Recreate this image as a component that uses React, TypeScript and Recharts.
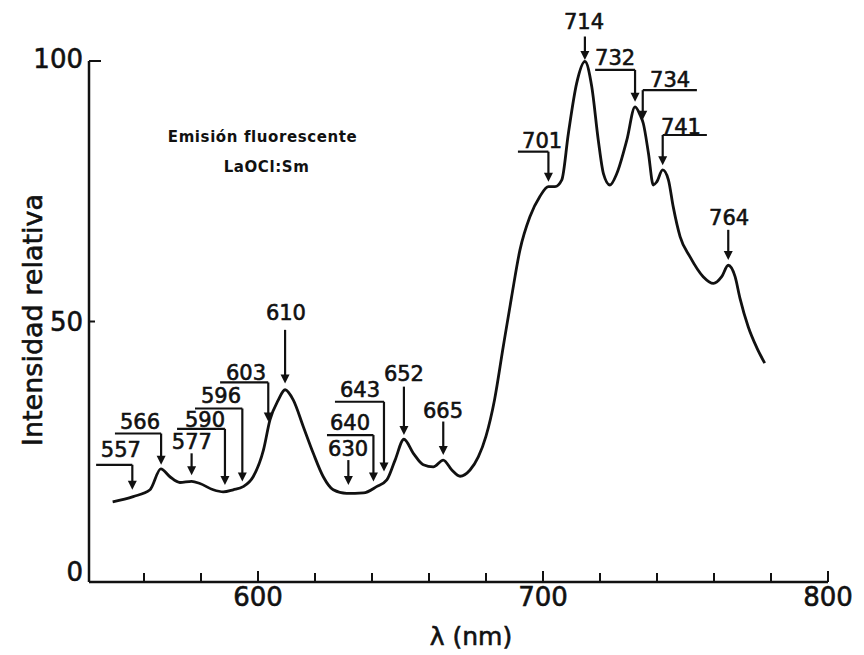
import React from 'react';
import { LineChart, Line, XAxis, YAxis, ReferenceLine, ReferenceDot, Label } from 'recharts';

// Spectrum (wavelength nm, relative intensity)
const wavelengths = [549.0, 556.2, 562.1, 565.9, 569.1, 572.6, 576.7, 579.6, 584.3, 587.8, 591.3, 594.8, 598.3, 601.9, 604.2, 607.1, 609.5, 612.4, 615.9, 619.4, 622.9, 626.4, 631.1, 637.0, 641.6, 645.2, 648.1, 651.2, 654.5, 658.0, 661.5, 665.0, 668.0, 670.9, 674.4, 677.3, 680.0, 683.0, 686.0, 689.0, 691.9, 695.4, 698.9, 701.9, 704.2, 706.6, 708.9, 711.8, 714.7, 717.1, 719.4, 721.2, 723.5, 725.9, 729.4, 732.3, 734.1, 735.2, 737.0, 738.7, 739.9, 742.0, 744.0, 745.7, 748.1, 751.6, 756.2, 759.8, 762.7, 765.0, 767.4, 769.1, 772.0, 775.0, 777.8];
const intensities = [15.4, 16.4, 17.7, 21.7, 20.2, 19.1, 19.3, 18.9, 17.7, 17.3, 17.7, 18.3, 20.2, 25.3, 31.1, 34.9, 36.9, 34.9, 29.8, 24.7, 20.2, 17.7, 17.0, 17.1, 18.3, 19.6, 23.4, 27.4, 24.7, 22.5, 22.1, 23.4, 21.5, 20.3, 21.5, 24.0, 28.0, 35.0, 45.0, 54.8, 63.7, 70.1, 74.0, 75.9, 75.9, 77.2, 86.1, 95.7, 99.9, 95.1, 84.8, 78.4, 76.2, 78.4, 84.8, 91.2, 89.6, 88.0, 82.3, 76.2, 76.8, 79.1, 77.2, 72.0, 66.3, 62.4, 58.6, 57.3, 58.6, 60.8, 58.6, 54.5, 49.0, 45.0, 42.0];

// Axis ticks
const xTicks = [560, 580, 600, 620, 640, 660, 680, 700, 720, 740, 760, 780, 800];
const xLabeled = [600, 700, 800];
const yTicks = [0, 50, 100];

// Peak annotations (data units)
const peakLabels = ['557', '566', '577', '590', '596', '603', '610', '630', '640', '643', '652', '665', '701', '714', '732', '734', '741', '764'];
const arrowWavelengths = [555.9, 566.0, 576.7, 588.4, 594.5, 603.6, 609.5, 631.7, 640.5, 644.2, 651.2, 665.0, 701.9, 714.7, 732.3, 735.0, 742.0, 765.0];
const arrowTops = [22.5, 28.5, 24.7, 29.4, 33.3, 38.3, 48.4, 23.4, 28.2, 34.6, 37.5, 30.8, 82.6, 104.7, 98.3, 94.4, 85.8, 67.6];
const arrowTips = [17.7, 22.5, 20.5, 18.6, 19.3, 30.8, 38.1, 18.6, 19.3, 21.2, 28.2, 24.4, 76.8, 100.2, 92.2, 88.7, 80.0, 61.8];
const leaderEnds: (number | null)[] = [543.2, 549.8, null, 571.6, 577.9, 586.7, null, null, 624.2, 627.0, null, null, 691.2, null, 718.3, 754.0, 757.5, null];
const labelWavelengths = [551.9, 558.6, 576.8, 581.4, 587.0, 595.8, 609.8, 631.6, 632.3, 635.8, 651.2, 664.9, 699.7, 714.4, 725.3, 744.6, 748.4, 765.3];
const labelIntensities = [25.5, 30.9, 26.9, 31.2, 35.8, 40.3, 51.8, 25.6, 30.6, 36.9, 40.1, 33.0, 84.8, 107.5, 100.6, 96.4, 87.5, 69.9];

// Inset note
const noteLines = ['Emisión fluorescente', 'LaOCl:Sm'];
const noteWavelengths = [601.6, 603.0];
const noteIntensities = [84.4, 78.7];

const INK = '#111';
const FONT = '"DejaVu Sans", sans-serif';
const TEXT_STROKE = { stroke: INK, strokeWidth: 0.6 };

const XTick = (props: any) => {
  const { x, y, payload } = props;
  const v = payload.value;
  const major = xLabeled.includes(v);
  return (
    <g>
      <line x1={x} x2={x} y1={y} y2={y - (major ? 11 : 9)} stroke={INK} strokeWidth={2} />
      {major && (
        <text x={x} y={y + 24} textAnchor="middle" fontSize={26} fontFamily={FONT} fill={INK} {...TEXT_STROKE}>
          {v}
        </text>
      )}
    </g>
  );
};

const YTick = (props: any) => {
  const { x, y, payload } = props;
  const v = payload.value;
  const len = v === 100 ? 12 : v === 50 ? 6 : 0;
  const dy = v === 0 ? -1 : v === 100 ? 7 : 9;
  return (
    <g>
      {len > 0 && <line x1={x} x2={x + len} y1={y} y2={y} stroke={INK} strokeWidth={2} />}
      <text x={x - 6} y={y + dy} textAnchor="end" fontSize={26} fontFamily={FONT} fill={INK} {...TEXT_STROKE}>
        {v}
      </text>
    </g>
  );
};

const ArrowShape = (props: any) => {
  const { x1, y1, x2, y2 } = props;
  const head = 9;
  return (
    <g>
      <line x1={x1} y1={y1} x2={x2} y2={y2 - head + 1} stroke={INK} strokeWidth={2.2} />
      <polygon points={`${x2},${y2} ${x2 - 4.5},${y2 - head} ${x2 + 4.5},${y2 - head}`} fill={INK} />
    </g>
  );
};

const LeaderShape = (props: any) => {
  const { x1, y1, x2, y2 } = props;
  return <line x1={x1} y1={y1} x2={x2} y2={y2} stroke={INK} strokeWidth={2.2} />;
};

export default function App() {
  const data = wavelengths.map((w, i) => ({ wl: w, v: intensities[i] }));
  return (
    <LineChart width={848} height={647} data={data} margin={{ top: 53, right: 28, bottom: 23, left: 21 }}>
      <XAxis
        type="number"
        dataKey="wl"
        domain={[540.7, 800]}
        ticks={xTicks}
        interval={0}
        tickSize={0}
        tickMargin={0}
        tickLine={false}
        tick={<XTick />}
        height={50}
        axisLine={{ stroke: INK, strokeWidth: 2.5 }}
      >
        <Label
          content={() => (
            <text x={463} y={637} textAnchor="middle" fontSize={25} fontFamily={FONT} fill={INK} {...TEXT_STROKE}>
              λ (nm)
            </text>
          )}
        />
      </XAxis>
      <YAxis
        type="number"
        domain={[0, 100]}
        ticks={yTicks}
        interval={0}
        tickSize={0}
        tickMargin={0}
        tickLine={false}
        tick={<YTick />}
        width={60}
        axisLine={{ stroke: INK, strokeWidth: 2.5 }}
      >
        <Label
          content={() => (
            <text
              x={34}
              y={312}
              transform="rotate(-90 34 312)"
              textAnchor="middle"
              fontSize={27}
              fontFamily={FONT}
              fill={INK}
              {...TEXT_STROKE}
            >
              Intensidad relativa
            </text>
          )}
        />
      </YAxis>
      <Line dataKey="v" type="monotone" stroke={INK} strokeWidth={2.8} dot={false} isAnimationActive={false} />
      {peakLabels.map((lab, i) => (
        <ReferenceLine
          key={`a${i}`}
          ifOverflow="visible"
          segment={[
            { x: arrowWavelengths[i], y: arrowTops[i] },
            { x: arrowWavelengths[i], y: arrowTips[i] },
          ]}
          shape={ArrowShape}
        />
      ))}
      {peakLabels.map((lab, i) =>
        leaderEnds[i] === null ? null : (
          <ReferenceLine
            key={`l${i}`}
            ifOverflow="visible"
            segment={[
              { x: leaderEnds[i] as number, y: arrowTops[i] },
              { x: arrowWavelengths[i], y: arrowTops[i] },
            ]}
            shape={LeaderShape}
          />
        )
      )}
      {peakLabels.map((lab, i) => (
        <ReferenceDot
          key={`t${i}`}
          ifOverflow="visible"
          x={labelWavelengths[i]}
          y={labelIntensities[i]}
          r={0}
          shape={(p: any) => (
            <text x={p.cx} y={p.cy} dy="0.36em" textAnchor="middle" fontSize={21} fontFamily={FONT} fill={INK} {...TEXT_STROKE}>
              {lab}
            </text>
          )}
        />
      ))}
      {noteLines.map((t, i) => (
        <ReferenceDot
          key={`n${i}`}
          ifOverflow="visible"
          x={noteWavelengths[i]}
          y={noteIntensities[i]}
          r={0}
          shape={(p: any) => (
            <text x={p.cx} y={p.cy} textAnchor="middle" fontSize={15} fontWeight="bold" letterSpacing={0.6} fontFamily={FONT} fill={INK}>
              {t}
            </text>
          )}
        />
      ))}
    </LineChart>
  );
}
